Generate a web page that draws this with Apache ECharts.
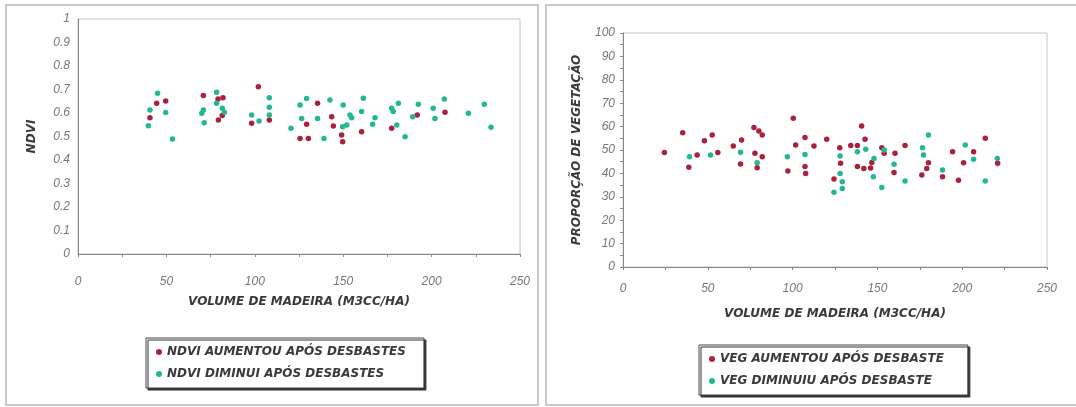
<!DOCTYPE html>
<html>
<head>
<meta charset="utf-8">
<script src="https://cdn.jsdelivr.net/npm/echarts/dist/echarts.min.js"></script>
<style>
  html, body { margin: 0; padding: 0; background: #fff; }
  #main { width: 1076px; height: 407px; }
</style>
</head>
<body>
<div id="main"></div>
<script>
// series names
var ndviNames = ['NDVI AUMENTOU APÓS DESBASTES', 'NDVI DIMINUI APÓS DESBASTES'];
var vegNames = ['VEG AUMENTOU APÓS DESBASTE', 'VEG DIMINUIU APÓS DESBASTE'];

// left chart: [volume, ndvi]
var ndviUp = [
    [40.7, 0.58], [44.5, 0.641], [49.6, 0.651], [70.9, 0.674], [79.2, 0.66], [82, 0.665],
    [81.6, 0.589], [79.4, 0.57], [102, 0.712], [98.2, 0.556], [108.2, 0.57], [125.6, 0.492],
    [130.3, 0.492], [129.3, 0.552], [135.5, 0.641], [143.5, 0.584], [144.4, 0.545], [149.1, 0.506],
    [149.7, 0.478], [160.4, 0.52], [177.4, 0.535], [191.9, 0.592], [207.6, 0.603]
];
var ndviDown = [
    [39.8, 0.546], [40.7, 0.613], [45, 0.684], [49.6, 0.602], [53.4, 0.489], [70, 0.599],
    [70.9, 0.613], [71.4, 0.559], [78.4, 0.688], [78.4, 0.642], [81.6, 0.62], [82.8, 0.603],
    [98.2, 0.592], [102.4, 0.566], [108.2, 0.665], [108.2, 0.624], [108.2, 0.592], [120.5, 0.535],
    [125.6, 0.634], [129.3, 0.662], [126.5, 0.577], [135.5, 0.577], [139.1, 0.492], [142.5, 0.655],
    [150, 0.634], [152, 0.549], [149.7, 0.542], [153.8, 0.592], [154.8, 0.58], [161.4, 0.663],
    [160.4, 0.606], [166.6, 0.552], [168, 0.58], [177.4, 0.62], [178.3, 0.606], [181.2, 0.641],
    [180.3, 0.549], [185, 0.499], [189.3, 0.584], [192.5, 0.637], [200.9, 0.62], [201.9, 0.577],
    [207.2, 0.66], [220.8, 0.599], [229.8, 0.637], [233.6, 0.539]
];

// right chart: [volume, vegetation %]
var vegUp = [
    [24.4, 48.9], [35.2, 57.4], [38.8, 42.6], [43.7, 47.9], [48, 54], [52.6, 56.4], [55.9, 48.9],
    [65, 51.7], [69.9, 54.3], [69.3, 44], [77.2, 59.6], [80.1, 58.1], [82.1, 56.4], [77.8, 48.6],
    [82.1, 47.1], [79.1, 42.4], [97.2, 41], [100.4, 63.6], [101.8, 52.1], [107.3, 55.3], [107.3, 42.9],
    [107.7, 40], [112.6, 51.7], [120.1, 54.6], [124.4, 37.6], [127.8, 51], [128.3, 44.3], [134.3, 51.9],
    [138.2, 51.9], [140.7, 60.3], [142.7, 54.6], [138.2, 42.9], [142, 42.1], [146, 42.3], [146.7, 44.7],
    [152.6, 51], [154, 48.6], [160.4, 48.6], [159.8, 40.4], [166.3, 51.9], [176.2, 39.3], [179.1, 42.1],
    [180.1, 44.6], [188.4, 38.6], [194.3, 49.3], [197.8, 37.1], [200.8, 44.6], [206.7, 49.3],
    [213.6, 55], [220.9, 44.3]
];
var vegDown = [
    [39.2, 47.1], [51.6, 47.9], [69.3, 49], [79.1, 44.6], [96.9, 47.1], [107.3, 48.1], [124.4, 31.9],
    [128, 47.4], [128, 40], [129.3, 36.4], [129.3, 33.6], [138.2, 49.3], [143.1, 50.3], [148, 46.4],
    [147.6, 38.6], [152.6, 34], [154, 50], [159.8, 43.9], [166.3, 36.7], [176.6, 51], [177.2, 47.9],
    [180.1, 56.4], [188.4, 41.4], [201.8, 52.1], [206.7, 46], [213.6, 36.7], [220.7, 46.4]
];

var red = '#a8223c';
var green = '#22b892';
var font = 'Liberation Sans';
var boldFont = 'DejaVu Sans';

var titleStyle = { fontFamily: boldFont, fontStyle: 'italic', fontWeight: 'bold', fontSize: 12, color: '#3a3a3a' };

function makeXAxis(gridIndex, labelMargin, nameGap) {
    return {
        gridIndex: gridIndex,
        type: 'value',
        min: 0,
        max: 250,
        interval: 50,
        name: 'VOLUME DE MADEIRA (M3CC/HA)',
        nameLocation: 'middle',
        nameGap: nameGap,
        nameTextStyle: titleStyle,
        axisLine: { lineStyle: { color: '#888' } },
        axisTick: { length: 3, lineStyle: { color: '#888' } },
        minorTick: { show: true, splitNumber: 2, length: 3, lineStyle: { color: '#888' } },
        splitLine: { show: false },
        axisLabel: { margin: labelMargin, fontFamily: font, fontStyle: 'italic', fontSize: 12, color: '#777' }
    };
}

function makeYAxis(gridIndex, name, max, interval, nameGap, minor) {
    return {
        gridIndex: gridIndex,
        type: 'value',
        min: 0,
        max: max,
        interval: interval,
        name: name,
        nameLocation: 'middle',
        nameGap: nameGap,
        nameTextStyle: titleStyle,
        axisLine: { show: true, lineStyle: { color: '#888' } },
        axisTick: { show: minor, length: 3, lineStyle: { color: '#888' } },
        minorTick: { show: minor, splitNumber: 2, length: 3, lineStyle: { color: '#888' } },
        splitLine: { show: false },
        axisLabel: { margin: 8, fontFamily: font, fontStyle: 'italic', fontSize: 12, color: '#777' }
    };
}

function makeLegend(names, left, top, padRight) {
    return {
        data: names,
        orient: 'vertical',
        left: left,
        top: top,
        padding: [8, padRight, 8, 10],
        itemGap: 10,
        itemWidth: 6,
        itemHeight: 6,
        icon: 'circle',
        backgroundColor: '#fff',
        borderColor: '#444',
        borderWidth: 1,
        shadowColor: '#333',
        shadowOffsetX: 2,
        shadowOffsetY: 2,
        shadowBlur: 0,
        textStyle: titleStyle
    };
}

function makeSeries(name, idx, data, color) {
    return {
        name: name,
        type: 'scatter',
        xAxisIndex: idx,
        yAxisIndex: idx,
        symbol: 'circle',
        symbolSize: 5.5,
        itemStyle: { color: color, opacity: 1 },
        data: data
    };
}

var option = {
    backgroundColor: '#fff',
    animation: false,
    graphic: [
        { type: 'rect', shape: { x: 6, y: 5, width: 532, height: 400 }, style: { fill: 'none', stroke: '#c8c8c8', lineWidth: 2 } },
        { type: 'rect', shape: { x: 546, y: 5, width: 531, height: 400 }, style: { fill: 'none', stroke: '#c8c8c8', lineWidth: 2 } }
    ],
    grid: [
        { left: 78, top: 19, width: 442, height: 235, show: true, borderColor: '#c4c4c4', borderWidth: 1 },
        { left: 623, top: 33, width: 424, height: 234, show: true, borderColor: '#c4c4c4', borderWidth: 1 }
    ],
    xAxis: [makeXAxis(0, 22, 42), makeXAxis(1, 16, 41)],
    yAxis: [
        makeYAxis(0, 'NDVI', 1, 0.1, 40, false),
        makeYAxis(1, 'PROPORÇÃO DE VEGETAÇÃO', 100, 10, 40, true)
    ],
    legend: [makeLegend(ndviNames, 146, 338, 18), makeLegend(vegNames, 699, 345, 24)],
    series: [
        makeSeries(ndviNames[0], 0, ndviUp, red),
        makeSeries(ndviNames[1], 0, ndviDown, green),
        makeSeries(vegNames[0], 1, vegUp, red),
        makeSeries(vegNames[1], 1, vegDown, green)
    ]
};

var myChart = echarts.init(document.getElementById('main'));
myChart.setOption(option);
</script>
</body>
</html>
